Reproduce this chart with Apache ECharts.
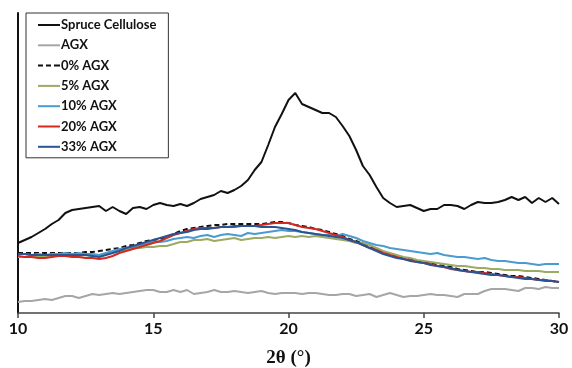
<!DOCTYPE html>
<html>
<head>
<meta charset="utf-8">
<script src="https://cdn.jsdelivr.net/npm/echarts@6/dist/echarts.min.js"></script>
<style>
  html, body { margin: 0; padding: 0; background: #fff; }
  #main { width: 572px; height: 368px; }
</style>
</head>
<body>
<div id="main"></div>
<script>
// 2theta from 10 to 30, step 0.25
var twoTheta = [];
for (var i = 0; i <= 80; i++) twoTheta.push(10 + i * 0.25);

var seriesNames = ['Spruce Cellulose', 'AGX', '0% AGX', '5% AGX', '10% AGX', '20% AGX', '33% AGX'];

var spruce = [70,73,76,80,84,89,93,100,103,104,105,106,107,102,106,102,99,105,106,104,
  108,110,108,107,109,107,110,114,116,118,122,120,123,127,133,143,151,168,186,199,
  213,220,209,206,203,200,200,196,187,177,163,147,138,126,115,110,106,107,108,105,
  102,104,104,108,108,107,104,108,111,110,110,111,113,116,113,116,110,115,111,115,109];

var agx = [11,12,12,13,14,13,15,17,17,15,17,19,18,19,20,19,20,21,22,23,
  23,21,21,23,21,23,19,20,21,23,21,21,22,21,20,21,22,20,19,20,
  20,20,19,20,20,19,18,18,19,19,17,18,19,16,18,20,18,16,17,17,
  18,19,18,18,17,16,19,19,19,22,24,24,24,23,22,25,25,24,26,25,25];

var agx0 = [60,60,60,60,60,60,60,60,60,60,61,61,62,63,64,65,67,68,70,72,
  73,74,76,79,82,84,85,86,87,88,88,89,89,89,89,89,89,90,91,91,
  90,88,87,86,84,83,81,79,77,74,72,69,66,63,60,58,56,55,54,52,
  51,50,48,47,46,44,43,42,41,41,40,39,38,37,37,36,35,34,33,32,31];

var agx5 = [56,56,57,56,57,57,58,57,58,57,58,57,58,59,61,63,63,65,65,66,
  66,67,67,69,71,71,73,73,74,72,73,74,75,73,74,75,75,76,75,76,
  77,76,77,76,77,76,75,74,73,72,70,70,68,65,62,60,58,56,55,53,
  52,51,50,49,48,47,47,46,45,45,44,44,43,43,43,42,42,42,41,41,41];

var agx10 = [59,59,58,59,58,59,59,60,59,60,59,59,58,60,62,64,65,66,68,69,
  71,71,72,74,75,76,75,77,78,76,78,79,78,77,80,79,80,81,82,83,
  82,82,81,80,79,78,78,77,79,77,75,72,70,68,67,65,64,63,62,61,
  60,59,60,58,57,56,56,55,54,55,53,52,52,51,50,50,49,48,49,49,49];

var agx20 = [57,56,56,55,55,56,57,57,56,56,55,55,54,55,57,60,62,64,66,68,
  70,72,75,78,80,82,84,85,85,85,86,86,86,87,87,87,88,89,90,90,
  90,88,86,85,84,82,80,78,76,73,71,68,65,63,60,58,56,54,53,51,
  50,49,47,46,44,43,42,41,41,40,39,38,37,36,36,35,34,33,33,32,31];

var agx33 = [59,59,58,58,58,58,58,58,58,58,58,57,56,58,60,62,65,67,69,71,
  73,75,77,79,80,81,83,84,84,85,86,86,87,87,87,87,86,86,86,85,
  84,83,81,80,79,78,77,76,75,73,71,68,65,62,59,57,55,54,52,51,
  50,48,47,46,45,43,42,41,40,39,38,38,37,36,35,34,34,33,32,32,31];

var xTicks = [10, 15, 20, 25, 30];

var colors = ['#111111', '#a6a6a6', '#111111', '#9bab63', '#4a9bd0', '#d42a1e', '#2b5492'];
var allData = [spruce, agx, agx0, agx5, agx10, agx20, agx33];

var solidIcon = 'path://M0,0H22V2H0Z';
var dashIcon = 'path://M0,0H5V2H0Z M8,0H13V2H8Z M16,0H22V2H16Z';

function pairs(ys) {
  return ys.map(function (v, k) { return [twoTheta[k], v]; });
}

var series = allData.map(function (ys, k) {
  return {
    name: seriesNames[k],
    type: 'line',
    data: pairs(ys),
    symbol: 'none',
    showSymbol: false,
    animation: false,
    lineStyle: {
      color: colors[k],
      width: 2,
      type: k === 2 ? [5, 3] : 'solid'
    },
    itemStyle: { color: colors[k] }
  };
});

var legendData = seriesNames.map(function (n, k) {
  return { name: n, icon: k === 2 ? dashIcon : solidIcon };
});

var myChart = echarts.init(document.getElementById('main'));

var option = {
  animation: false,
  grid: { left: 18, right: 13, top: 13, bottom: 55, outerBoundsMode: 'none' },
  legend: {
    data: legendData,
    orient: 'vertical',
    left: 26,
    top: 13,
    padding: [5, 12, 4, 12],
    itemWidth: 22,
    itemHeight: 2,
    itemGap: 6.3,
    borderColor: '#333',
    borderWidth: 1,
    textStyle: {
      fontFamily: 'Lato',
      fontWeight: 'bold',
      fontSize: 13,
      color: '#111',
      lineHeight: 14,
      padding: [0, 0, 0, -4]
    }
  },
  xAxis: {
    type: 'value',
    min: 10,
    max: 30,
    interval: 5,
    name: '2θ (°)',
    nameLocation: 'middle',
    nameGap: 36,
    nameTextStyle: {
      fontFamily: 'Liberation Serif',
      fontWeight: 'bold',
      fontSize: 19,
      color: '#111'
    },
    axisLine: { lineStyle: { color: '#444', width: 1.5 } },
    axisTick: { show: true, length: 5, lineStyle: { color: '#444', width: 1.5 } },
    axisLabel: {
      fontFamily: 'Lato',
      fontWeight: 'bold',
      fontSize: 16,
      color: '#111',
      margin: 8,
      customValues: xTicks
    },
    splitLine: { show: false }
  },
  yAxis: {
    type: 'value',
    min: 0,
    max: 300,
    axisLine: { show: true, lineStyle: { color: '#111', width: 2 } },
    axisTick: { show: false },
    axisLabel: { show: false },
    splitLine: { show: false }
  },
  series: series
};

myChart.setOption(option);
</script>
</body>
</html>
